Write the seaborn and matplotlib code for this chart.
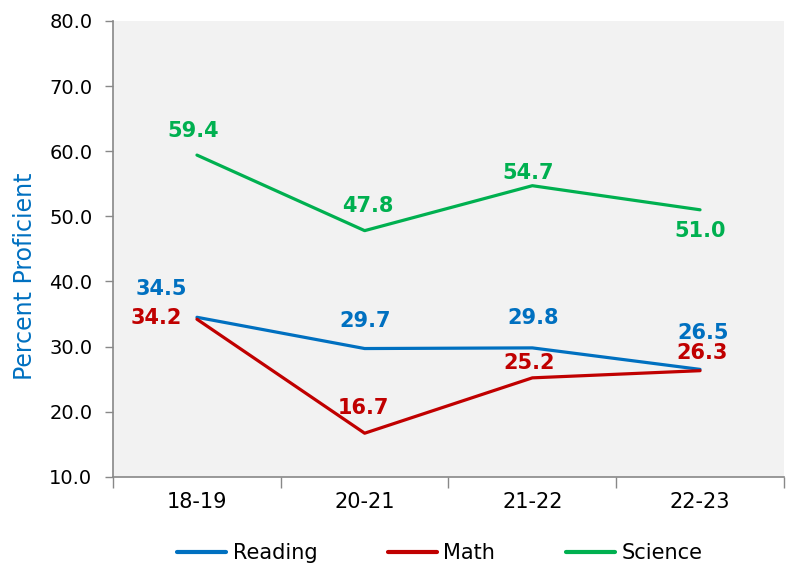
import matplotlib
matplotlib.use("Agg")

import matplotlib.pyplot as plt
import seaborn as sns
import pandas as pd
from matplotlib.ticker import FormatStrFormatter, FixedLocator

# Data
years = ["18-19", "20-21", "21-22", "22-23"]
reading = [34.5, 29.7, 29.8, 26.5]
math_scores = [34.2, 16.7, 25.2, 26.3]
science = [59.4, 47.8, 54.7, 51.0]

colors = {"Reading": "#0070C0", "Math": "#C00000", "Science": "#00B050"}

# label offsets in pixels (dx, dy) relative to each point
offsets = {
    "Reading": [(-36, 28), (0, 28), (1, 30), (3, 36)],
    "Math": [(-41, 1), (-1, 25), (-3, 15), (2, 18)],
    "Science": [(-4, 24), (3, 25), (-4, 13), (0, -21)],
}

df = pd.DataFrame({
    "Year": years * 3,
    "Percent": reading + math_scores + science,
    "Subject": ["Reading"] * 4 + ["Math"] * 4 + ["Science"] * 4,
})

sns.set_theme(style="white")
plt.rcParams["font.family"] = ["DejaVu Sans"]

fig = plt.figure(figsize=(7.91, 5.65), dpi=100)
ax = fig.add_axes([0.143, 0.156, 0.848, 0.807])
ax.set_facecolor("#F2F2F2")

sns.lineplot(data=df, x="Year", y="Percent", hue="Subject", palette=colors,
             linewidth=2.3, sort=False, ax=ax)

# data labels
for subject, vals in [("Reading", reading), ("Math", math_scores), ("Science", science)]:
    for i, v in enumerate(vals):
        dx, dy = offsets[subject][i]
        ax.annotate(f"{v:.1f}", xy=(i, v), xytext=(dx, dy), textcoords="offset pixels",
                    ha="center", va="center", fontsize=15, fontweight="bold",
                    color=colors[subject])

ax.set_xlim(-0.5, 3.5)
ax.set_ylim(10, 80)
ax.set_yticks(range(10, 81, 10))
ax.yaxis.set_major_formatter(FormatStrFormatter("%.1f"))
ax.tick_params(axis="y", labelsize=14, labelcolor="black", length=6, width=1,
               color="#888888", direction="out", left=True, pad=9)
ax.tick_params(axis="x", which="major", labelsize=15, labelcolor="black", length=0,
               pad=11, bottom=True)
ax.xaxis.set_minor_locator(FixedLocator([-0.5, 0.5, 1.5, 2.5, 3.5]))
ax.tick_params(axis="x", which="minor", length=8, width=1, color="#888888", bottom=True)

for side in ["top", "right"]:
    ax.spines[side].set_visible(False)
for side in ["left", "bottom"]:
    ax.spines[side].set_color("#888888")
    ax.spines[side].set_linewidth(1.2)

ax.set_xlabel("")
ax.set_ylabel("Percent Proficient", fontsize=17, color="#0070C0")
ax.yaxis.set_label_coords(-0.113, 0.44)

handles, labels = ax.get_legend_handles_labels()
leg = ax.legend(handles, labels, loc="center", bbox_to_anchor=(0.487, -0.167), ncol=3,
                frameon=False, fontsize=15, handlelength=2.35, columnspacing=3.4,
                handletextpad=0.3, labelcolor="black")
for line in leg.get_lines():
    line.set_linewidth(3)

fig.savefig("out.png", dpi=100)
